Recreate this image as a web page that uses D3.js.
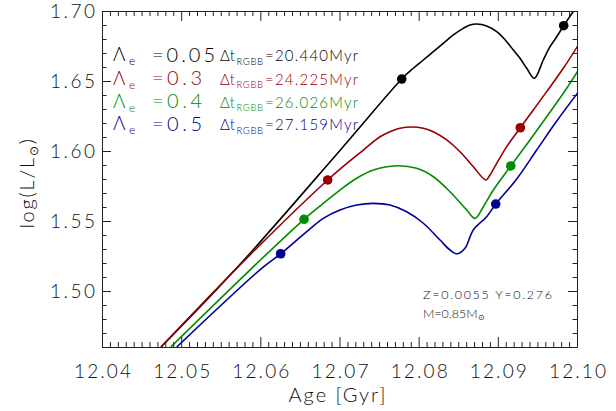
<!DOCTYPE html>
<html><head><meta charset="utf-8">
<script src="https://cdn.jsdelivr.net/npm/d3@7"></script>
<style>
body{margin:0;background:#fff}
svg{display:block}
text{font-family:Lato,Roboto,"Open Sans","Liberation Sans",Arial,sans-serif;font-weight:300}
</style>
</head><body>
<svg id="c" width="616" height="411"></svg>
<script>
// ---- data ----
const blackAge=[12.04745,12.05743,12.07006,12.07786,12.07932,12.08059,12.08185,12.08311,12.08438,12.08564,12.08648,12.08733,12.08859,12.08986,12.09112,12.09196,12.09280,12.09365,12.09461,12.09574,12.09659,12.09744,12.09832,12.09966];
const blackLogL=[1.4600,1.5190,1.6004,1.6514,1.6591,1.6650,1.6709,1.6769,1.6829,1.6876,1.6900,1.6907,1.6893,1.6852,1.6781,1.6721,1.6662,1.6591,1.6519,1.6650,1.6745,1.6816,1.6895,1.7007];
const redAge=[12.04745,12.05743,12.06851,12.07301,12.07512,12.07638,12.07764,12.07912,12.08059,12.08185,12.08354,12.08522,12.08690,12.08850,12.08901,12.08986,12.09112,12.09284,12.09448,12.09617,12.09827,12.10009];
const redLogL=[1.4600,1.5186,1.5793,1.6007,1.6102,1.6138,1.6162,1.6171,1.6162,1.6138,1.6079,1.5995,1.5888,1.5793,1.5829,1.5912,1.6031,1.6166,1.6293,1.6424,1.6591,1.6750];
const greenAge=[12.04868,12.05891,12.06552,12.06795,12.07006,12.07217,12.07427,12.07723,12.07975,12.08185,12.08396,12.08607,12.08712,12.08817,12.08943,12.09163,12.09406,12.09617,12.09827,12.10009];
const greenLogL=[1.4600,1.5162,1.5512,1.5626,1.5721,1.5805,1.5864,1.5895,1.5876,1.5816,1.5709,1.5579,1.5519,1.5602,1.5721,1.5893,1.6079,1.6245,1.6412,1.6571];
const blueAge=[12.04944,12.06017,12.06257,12.06586,12.06795,12.07006,12.07217,12.07427,12.07638,12.07849,12.08059,12.08270,12.08396,12.08488,12.08585,12.08690,12.08859,12.08973,12.09229,12.09491,12.09735,12.10009];
const blueLogL=[1.4600,1.5162,1.5266,1.5424,1.5519,1.5579,1.5614,1.5626,1.5614,1.5566,1.5484,1.5364,1.5293,1.5266,1.5305,1.5436,1.5531,1.5621,1.5793,1.6007,1.6207,1.6416];

const blackMarkAge=[12.07786,12.09832], blackMarkLogL=[1.6514,1.6895];
const redMarkAge=[12.06851,12.09284],   redMarkLogL=[1.5793,1.6166];
const greenMarkAge=[12.06552,12.09163], greenMarkLogL=[1.5512,1.5893];
const blueMarkAge=[12.06257,12.08973],  blueMarkLogL=[1.5266,1.5621];

const lambdaLabels=["0.05","0.3","0.4","0.5"];
const dtLabels=["20.440","24.225","26.026","27.159"];
const xTicks=[12.04,12.05,12.06,12.07,12.08,12.09,12.10];
const yTicks=[1.50,1.55,1.60,1.65,1.70];

// ---- layout ----
const L=102,R=577,T=11,B=347;
const colors=["#000000","#960000","#008c00","#000096"];
const svg=d3.select("#c");
svg.append("rect").attr("width",616).attr("height",411).attr("fill","#fff");

const x=d3.scaleLinear().domain([12.04,12.10]).range([L,R]);
const y=d3.scaleLinear().domain([1.46,1.70]).range([B,T]);

svg.append("clipPath").attr("id","clip").append("rect")
  .attr("x",L).attr("y",T).attr("width",R-L).attr("height",B-T);

const series=[
  {age:blackAge,l:blackLogL,ma:blackMarkAge,ml:blackMarkLogL},
  {age:redAge,l:redLogL,ma:redMarkAge,ml:redMarkLogL},
  {age:greenAge,l:greenLogL,ma:greenMarkAge,ml:greenMarkLogL},
  {age:blueAge,l:blueLogL,ma:blueMarkAge,ml:blueMarkLogL}
];
const line=d3.line().x(d=>x(d[0])).y(d=>y(d[1])).curve(d3.curveCatmullRom.alpha(0.5));
const g=svg.append("g").attr("clip-path","url(#clip)");
series.forEach((s,i)=>{
  const pts=s.age.map((a,j)=>[a,s.l[j]]);
  g.append("path").attr("d",line(pts)).attr("fill","none")
   .attr("stroke",colors[i]).attr("stroke-width",1.6).attr("stroke-linejoin","round");
});
series.forEach((s,i)=>{
  s.ma.forEach((a,j)=>{
    g.append("circle").attr("cx",x(a)).attr("cy",y(s.ml[j])).attr("r",4.8).attr("fill",colors[i]);
  });
});

// ---- axes ----
const xMinor=d3.range(0,61).map(k=>12.04+k*0.001).filter(v=>Math.abs(Math.round(v*100)-v*100)>1e-6);
const yMinor=d3.range(0,25).map(k=>1.46+k*0.01).filter(v=>Math.abs(Math.round(v*20)-v*20)>1e-6);

function styleAxis(sel){
  sel.selectAll("path.domain").attr("stroke","#222").attr("stroke-width",1);
  sel.selectAll(".tick line").attr("stroke","#222").attr("stroke-width",1);
}
const fs="19px";
const ff="Lato, Roboto, Open Sans, Liberation Sans, Arial, sans-serif";
// bottom
const gb=svg.append("g").attr("transform",`translate(0,${B})`)
  .call(d3.axisBottom(x).tickValues(xTicks).tickFormat(d3.format(".2f")).tickSize(-10).tickSizeOuter(0).tickPadding(18));
styleAxis(gb);
gb.selectAll("text").attr("font-size",fs).attr("fill","#111").attr("font-family",ff).attr("font-weight",300)
  .attr("textLength",57).attr("lengthAdjust","spacing");
svg.append("g").attr("transform",`translate(0,${B})`)
  .call(d3.axisBottom(x).tickValues(xMinor).tickFormat("").tickSize(-5).tickSizeOuter(0))
  .call(s=>{s.select(".domain").remove();styleAxis(s);});
// top
const gt=svg.append("g").attr("transform",`translate(0,${T})`)
  .call(d3.axisTop(x).tickValues(xTicks).tickFormat("").tickSize(-10).tickSizeOuter(0));
styleAxis(gt);
svg.append("g").attr("transform",`translate(0,${T})`)
  .call(d3.axisTop(x).tickValues(xMinor).tickFormat("").tickSize(-5).tickSizeOuter(0))
  .call(s=>{s.select(".domain").remove();styleAxis(s);});
// left
const gl=svg.append("g").attr("transform",`translate(${L},0)`)
  .call(d3.axisLeft(y).tickValues(yTicks).tickFormat(d3.format(".2f")).tickSize(-9).tickSizeOuter(0).tickPadding(7));
styleAxis(gl);
gl.selectAll("text").attr("font-size",fs).attr("fill","#111").attr("font-family",ff).attr("font-weight",300)
  .attr("textLength",45).attr("lengthAdjust","spacing");
svg.append("g").attr("transform",`translate(${L},0)`)
  .call(d3.axisLeft(y).tickValues(yMinor).tickFormat("").tickSize(-4.5).tickSizeOuter(0))
  .call(s=>{s.select(".domain").remove();styleAxis(s);});
// right
const gr=svg.append("g").attr("transform",`translate(${R},0)`)
  .call(d3.axisRight(y).tickValues(yTicks).tickFormat("").tickSize(-9).tickSizeOuter(0));
styleAxis(gr);
svg.append("g").attr("transform",`translate(${R},0)`)
  .call(d3.axisRight(y).tickValues(yMinor).tickFormat("").tickSize(-4.5).tickSizeOuter(0))
  .call(s=>{s.select(".domain").remove();styleAxis(s);});

// ---- titles ----
svg.append("text").attr("x",337).attr("y",402).attr("text-anchor","middle")
  .attr("font-size","20px").attr("fill","#111").attr("textLength",97).attr("lengthAdjust","spacing").text("Age [Gyr]");
const yt=svg.append("text").attr("transform","translate(34,183) rotate(-90)")
  .attr("text-anchor","middle").attr("font-size","20px").style("letter-spacing","1.8px").attr("fill","#111");
yt.append("tspan").text("log(L/L");
yt.append("tspan").attr("font-size","12px").attr("dy",4).text("⊙");
yt.append("tspan").attr("dy",-4).text(")");

// ---- legend ----
const baselines=[61.5,85,108.3,130.7];
lambdaLabels.forEach((lab,i)=>{
  const b=baselines[i], c=colors[i];
  svg.append("text").attr("x",113).attr("y",b-0.5).attr("font-size","19px").attr("fill",c).text("Λ");
  svg.append("text").attr("x",129).attr("y",b+3.5).attr("font-size","12px").attr("fill",c).text("e");
  svg.append("text").attr("x",152).attr("y",b).attr("font-size","20px").attr("fill",c)
    .attr("textLength",i===0?63:50).attr("lengthAdjust","spacing").text("="+lab);
  svg.append("text").attr("x",220).attr("y",b-0.5).attr("font-size","15px").attr("fill",c).text("Δt");
  svg.append("text").attr("x",236.5).attr("y",b+3).attr("font-size","9.5px").attr("fill",c)
    .attr("textLength",26.5).attr("lengthAdjust","spacing").text("RGBB");
  svg.append("text").attr("x",265).attr("y",b-0.5).attr("font-size","15px").attr("fill",c)
    .attr("textLength",93).attr("lengthAdjust","spacing").text("="+dtLabels[i]+"Myr");
});

// ---- parameters note ----
svg.append("text").attr("x",423).attr("y",298.5).attr("font-size","12.5px").attr("fill","#111")
  .attr("textLength",129).attr("lengthAdjust","spacing").text("Z=0.0055 Y=0.276");
const m=svg.append("text").attr("x",423).attr("y",317.5).attr("font-size","12.5px").attr("fill","#111");
m.append("tspan").text("M=0.85M");
m.append("tspan").attr("font-size","8px").attr("dy",2.5).text("⊙");
</script>
</body></html>
